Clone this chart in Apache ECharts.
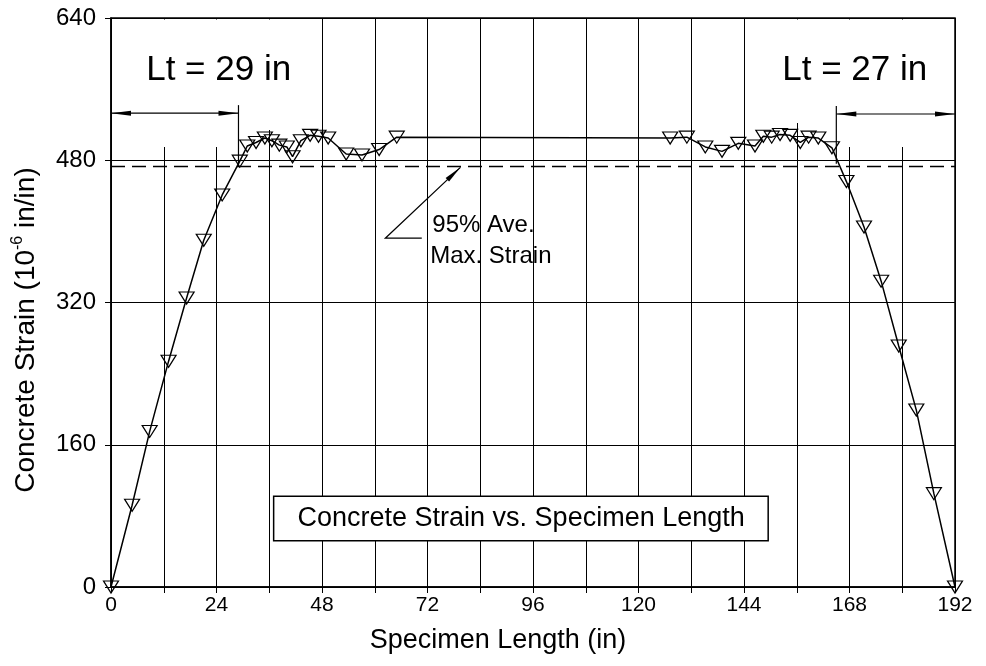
<!DOCTYPE html>
<html><head><meta charset="utf-8">
<script src="https://cdn.jsdelivr.net/npm/echarts@6.0.0/dist/echarts.min.js"></script>
<style>html,body{margin:0;padding:0;background:#fff}#c{width:986px;height:666px}</style>
</head><body><div id="c"></div>
<script>
// ---- data ----
const positions = [0, 4.8, 8.8, 13.1, 17.2, 21.1, 25.3,
  29.3, 31, 33, 35, 36.6, 38.3, 40, 41.3, 43.2, 45.3, 47.2, 49.4, 53.5, 57.1, 61, 65,
  127.2, 131, 135.2, 139, 142.7, 146.5, 148.4, 150.3, 152.2, 154.5, 156.8, 158.7, 160.9, 164,
  167.3, 171.3, 175.2, 179.2, 183.2, 187.2, 192];
const strains = [0, 92, 175, 254, 325, 390, 441,
  479, 496, 500, 505, 502, 497, 495, 484, 502, 508, 507, 505, 487, 486, 492, 506,
  505, 506, 495, 490, 499, 496, 507, 506, 509, 508, 500, 506, 505, 494,
  456, 405, 344, 271, 199, 105, 0];
const xTickLabels = [0, 24, 48, 72, 96, 120, 144, 168, 192];
const yTickLabels = [0, 160, 320, 480, 640];
const maxStrain95 = 473;
const ltLeft = 29, ltRight = 165;
const ltLeftText = 'Lt = 29 in', ltRightText = 'Lt = 27 in';
const boxText = 'Concrete Strain vs. Specimen Length';
const xTitle = 'Specimen Length (in)';

const FONT = '"Liberation Sans", Arial, Helvetica, sans-serif';
const chart = echarts.init(document.getElementById('c'));
chart.setOption({
  animation: false,
  backgroundColor: '#fff',
  grid: {left: 111, right: 31, top: 18, bottom: 79, show: true, borderColor: '#000', borderWidth: 1.5, backgroundColor: 'transparent'},
  xAxis: {
    type: 'value', min: 0, max: 192, interval: 12,
    axisLine: {lineStyle: {color: '#000', width: 1.5}},
    axisTick: {show: true, length: 6, lineStyle: {color: '#000', width: 1}},
    axisLabel: {color: '#000', fontSize: 21, fontFamily: FONT, margin: 8, showMinLabel: true, showMaxLabel: true,
      formatter: v => xTickLabels.includes(v) ? String(v) : ''},
    splitLine: {show: true, lineStyle: {color: '#000', width: 1}}
  },
  yAxis: {
    type: 'value', min: 0, max: 640, interval: 160,
    axisLine: {show: true, lineStyle: {color: '#000', width: 1.5}},
    axisTick: {show: true, length: 6, lineStyle: {color: '#000', width: 1}},
    axisLabel: {color: '#000', fontSize: 24, fontFamily: FONT, margin: 15, showMinLabel: true, showMaxLabel: true,
      formatter: v => yTickLabels.includes(v) ? String(v) : ''},
    splitLine: {show: true, lineStyle: {color: '#000', width: 1}}
  },
  series: [{
    type: 'line', z: 5,
    data: positions.map((x, i) => [x, strains[i]]),
    symbol: 'triangle', symbolRotate: 180, symbolSize: [15, 12],
    itemStyle: {color: 'rgba(255,255,255,0)', borderColor: '#000', borderWidth: 1.2},
    lineStyle: {color: '#000', width: 1.5}
  }]
});

function P(x, y) { return chart.convertToPixel({gridIndex: 0}, [x, y]); }
function arrowHead(tip, from, len, hw) {
  const dx = tip[0] - from[0], dy = tip[1] - from[1];
  const d = Math.hypot(dx, dy), ux = dx / d, uy = dy / d;
  const bx = tip[0] - ux * len, by = tip[1] - uy * len;
  return {type: 'polygon', z: 20, shape: {points: [tip, [bx - uy * hw, by + ux * hw], [bx + uy * hw, by - ux * hw]]}, style: {fill: '#000'}};
}
function line(a, b, style) {
  return {type: 'line', z: 20, shape: {x1: a[0], y1: a[1], x2: b[0], y2: b[1]}, style: Object.assign({stroke: '#000', lineWidth: 1.5}, style || {})};
}
function whiteRect(a, b) {
  return {type: 'rect', z: 1, shape: {x: Math.min(a[0], b[0]), y: Math.min(a[1], b[1]), width: Math.abs(b[0] - a[0]), height: Math.abs(b[1] - a[1])}, style: {fill: '#fff'}};
}
const g = [];
// gridline gaps behind the Lt labels
g.push(whiteRect(P(0.4, 638.3), P(37.5, 514)));
g.push(whiteRect(P(0.4, 514), P(27, 495)));
g.push(whiteRect(P(154, 638.3), P(191.6, 522)));
g.push(whiteRect(P(166, 522), P(191.6, 495)));
// 95% average max strain dashed line
g.push(line(P(0, maxStrain95), P(192, maxStrain95), {lineDash: [14, 7], lineWidth: 1.5}));
// Lt left
const la = P(0, 533), lb = P(ltLeft, 533);
g.push(line(la, lb, {lineWidth: 1.2}));
g.push(arrowHead(la, lb, 20, 2.5));
g.push(arrowHead(lb, la, 20, 2.5));
g.push(line(P(ltLeft, 542), P(ltLeft, 474), {lineWidth: 1.2}));
// Lt right
const ra = P(ltRight, 532), rb = P(192, 532);
g.push(line(ra, rb, {lineWidth: 1.2}));
g.push(arrowHead(ra, rb, 20, 2.5));
g.push(arrowHead(rb, ra, 20, 2.5));
g.push(line(P(ltRight, 541), P(ltRight, 476), {lineWidth: 1.2}));
// Lt labels
let t = P(24.5, 581);
g.push({type: 'text', z: 20, x: t[0], y: t[1], style: {text: ltLeftText, fontSize: 35, fontFamily: FONT, fill: '#000', align: 'center', verticalAlign: 'middle'}});
t = P(169.2, 581);
g.push({type: 'text', z: 20, x: t[0], y: t[1], style: {text: ltRightText, fontSize: 35, fontFamily: FONT, fill: '#000', align: 'center', verticalAlign: 'middle'}});
// 95% pointer
const p1 = P(70.7, 392.3), p2 = P(62.4, 392.3), p3 = P(79.5, 472);
g.push({type: 'polyline', z: 20, shape: {points: [p1, p2, p3]}, style: {stroke: '#000', lineWidth: 1.2, fill: null}});
g.push(arrowHead(p3, p2, 18, 2.5));
t = P(73.1, 407);
g.push({type: 'text', z: 20, x: t[0], y: t[1], style: {text: '95% Ave.', fontSize: 24, fontFamily: FONT, fill: '#000', align: 'left', verticalAlign: 'middle'}});
t = P(72.6, 372);
g.push({type: 'text', z: 20, x: t[0], y: t[1], style: {text: 'Max. Strain', fontSize: 24, fontFamily: FONT, fill: '#000', align: 'left', verticalAlign: 'middle'}});
// box
const b1 = P(37, 102), b2 = P(149.5, 52);
g.push({type: 'rect', z: 15, shape: {x: b1[0], y: b1[1], width: b2[0] - b1[0], height: b2[1] - b1[1]}, style: {fill: '#fff', stroke: '#000', lineWidth: 1.5}});
t = P(93.3, 77);
g.push({type: 'text', z: 20, x: t[0], y: t[1], style: {text: boxText, fontSize: 27, fontFamily: FONT, fill: '#000', align: 'center', verticalAlign: 'middle'}});
// axis titles
g.push({type: 'text', z: 20, x: 498, y: 641, style: {text: xTitle, fontSize: 27, fontFamily: FONT, fill: '#000', align: 'center', verticalAlign: 'middle'}});
g.push({type: 'text', z: 20, x: 26, y: 330, rotation: Math.PI / 2, style: {
  text: '{a|Concrete Strain (10}{b|-6}{a| in/in)}', align: 'center', verticalAlign: 'middle',
  rich: {a: {fontSize: 28, fontFamily: FONT, fill: '#000', lineHeight: 32}, b: {fontSize: 16, fontFamily: FONT, fill: '#000', verticalAlign: 'top', lineHeight: 18}}}});
chart.setOption({graphic: g});
</script>
</body></html>
